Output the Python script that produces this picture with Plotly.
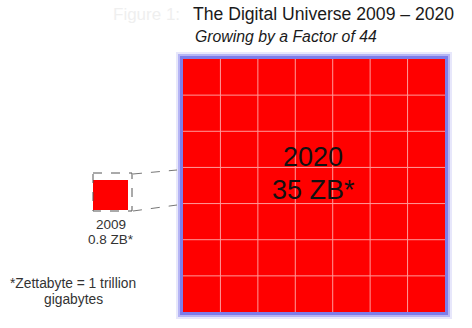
import plotly.graph_objects as go

years = ["2009", "2020"]
sizes_zb = [0.8, 35]
size_labels = ["0.8 ZB*", "35 ZB*"]
title_text = "The Digital Universe 2009 \u2013 2020"
subtitle_text = "Growing by a Factor of 44"
footnote_lines = ["*Zettabyte = 1 trillion", "gigabytes"]
grid_n = 7

W, H = 472, 328
FONT = "Liberation Sans, Arial, sans-serif"

# layout geometry (pixel-space data coordinates)
big = dict(x0=183, y0=59, x1=445, y1=312)
small = dict(x0=93, y0=180, x1=128, y1=210)
dash_box = dict(x0=93, y0=173, x1=132, y1=211)

fig = go.Figure()
shapes = []
# glow around big square
for w, col, pad in [(4, "rgba(160,160,240,0.25)", 5), (3, "rgba(140,140,240,0.55)", 3.5), (3, "#7d7dea", 1.5)]:
    shapes.append(dict(type="rect", x0=big["x0"] - pad, y0=big["y0"] - pad, x1=big["x1"] + pad, y1=big["y1"] + pad,
                       line=dict(color=col, width=w), fillcolor="rgba(0,0,0,0)", layer="below"))
shapes.append(dict(type="rect", **big, line=dict(color="#ff0000", width=0), fillcolor="#ff0000"))
cw = (big["x1"] - big["x0"]) / grid_n
ch = (big["y1"] - big["y0"]) / grid_n
for i in range(1, grid_n):
    x = big["x0"] + i * cw
    shapes.append(dict(type="line", x0=x, x1=x, y0=big["y0"], y1=big["y1"], line=dict(color="#ff9a9a", width=1)))
    y = big["y0"] + i * ch
    shapes.append(dict(type="line", x0=big["x0"], x1=big["x1"], y0=y, y1=y, line=dict(color="#ff9a9a", width=1)))
# small square
shapes.append(dict(type="rect", **small, line=dict(width=0), fillcolor="#ff0000"))
shapes.append(dict(type="rect", **dash_box, line=dict(color="#555555", width=1, dash="dash"), fillcolor="rgba(0,0,0,0)"))
# connector lines
shapes.append(dict(type="line", x0=133, y0=174, x1=177, y1=170, line=dict(color="#777777", width=1, dash="dash")))
shapes.append(dict(type="line", x0=133, y0=211, x1=177, y1=205, line=dict(color="#777777", width=1, dash="dash")))

annotations = [
    dict(x=182, y=14, text="Figure 1:", showarrow=False, xanchor="right", font=dict(family=FONT, size=17, color="#efefef")),
    dict(x=191, y=14, text=title_text, showarrow=False, xanchor="left", font=dict(family=FONT, size=17.6, color="#1a1a1a")),
    dict(x=193, y=36, text="<i>" + subtitle_text + "</i>", showarrow=False, xanchor="left", font=dict(family=FONT, size=15.8, color="#1a1a1a")),
    dict(x=313, y=157, text=years[1], showarrow=False, font=dict(family=FONT, size=27, color="#111111")),
    dict(x=313, y=190, text=size_labels[1], showarrow=False, font=dict(family=FONT, size=27, color="#111111")),
    dict(x=111, y=224, text=years[0], showarrow=False, font=dict(family=FONT, size=13.5, color="#333333")),
    dict(x=111, y=239, text=size_labels[0], showarrow=False, font=dict(family=FONT, size=13.5, color="#333333")),
    dict(x=73, y=283, text=footnote_lines[0], showarrow=False, font=dict(family=FONT, size=13.8, color="#333333")),
    dict(x=73, y=299, text=footnote_lines[1], showarrow=False, font=dict(family=FONT, size=13.8, color="#333333")),
]

fig.update_layout(
    width=W, height=H, margin=dict(l=0, r=0, t=0, b=0),
    paper_bgcolor="white", plot_bgcolor="white",
    xaxis=dict(range=[0, W], visible=False, fixedrange=True),
    yaxis=dict(range=[H, 0], visible=False, fixedrange=True),
    shapes=shapes, annotations=annotations, showlegend=False,
)
fig.write_html("out.html")
